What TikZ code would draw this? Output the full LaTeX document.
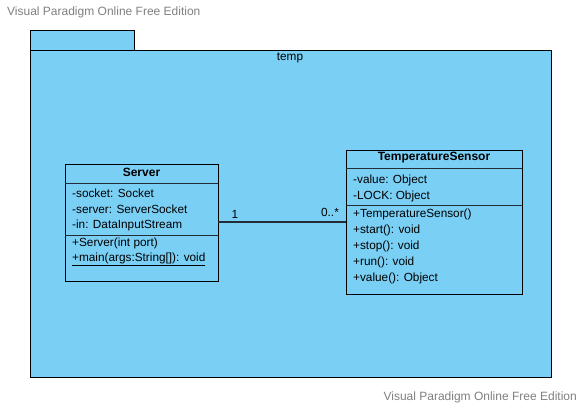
\documentclass[tikz,border=0pt]{standalone}
\usepackage{fontspec}
\setmainfont{Liberation Sans}
\definecolor{pkgblue}{RGB}{122,207,245}
\definecolor{wm}{RGB}{128,128,128}
\definecolor{lineclr}{RGB}{35,45,55}
\begin{document}
\begin{tikzpicture}[x=1pt,y=-1pt,
  box/.style={draw=black,fill=pkgblue,line width=1pt,inner sep=0pt,outer sep=0pt,anchor=north west},
  mem/.style={anchor=west,inner sep=0pt,font=\fontsize{11.8}{14}\selectfont},
  head/.style={anchor=center,inner sep=0pt,font=\bfseries\fontsize{12}{14}\selectfont},
  sep/.style={draw=lineclr,line width=1pt},
  wmark/.style={text=wm,inner sep=0pt,font=\fontsize{12}{14}\selectfont},
  mult/.style={inner sep=0pt,font=\fontsize{11.8}{14}\selectfont}]
\useasboundingbox (0,0) rectangle (582,408);
\fill[white] (0,0) rectangle (582,408);
% watermarks
\node[wmark,anchor=west] (wm1) at (7,12) {Visual Paradigm Online Free Edition};
\node[wmark,anchor=east] (wm2) at (577,397) {Visual Paradigm Online Free Edition};
% package
\node[box,minimum width=104pt,minimum height=20pt] (tab) at (30,30) {};
\node[box,minimum width=521pt,minimum height=327pt] (pkg) at (30,50) {};
\node[mult] (pkgname) at (290,58) {temp};
% Server class
\node[box,minimum width=153pt,minimum height=117pt] (server) at (65,164) {};
\node[head] (serverh) at (141.5,172) {Server};
\draw[sep] (65,183) -- (218,183);
\node[mem] (s1) at (72,193) {-socket: Socket};
\node[mem] (s2) at (72,209) {-server: ServerSocket};
\node[mem] (s3) at (72,225) {-in: DataInputStream};
\draw[sep] (65,235) -- (218,235);
\node[mem] (s4) at (72,243) {+Server(int port)};
\node[mem] (s5) at (72,259) {\underline{+main(args:String[]): void}};
% TemperatureSensor class
\node[box,minimum width=176pt,minimum height=144pt] (sensor) at (346,150) {};
\node[head] (sensorh) at (434,158) {TemperatureSensor};
\draw[sep] (346,168) -- (522,168);
\node[mem] (t1) at (353,180) {-value: Object};
\node[mem] (t2) at (353,196) {-LOCK: Object};
\draw[sep] (346,205) -- (522,205);
\node[mem] (t3) at (353,214) {+TemperatureSensor()};
\node[mem] (t4) at (353,230) {+start(): void};
\node[mem] (t5) at (353,246) {+stop(): void};
\node[mem] (t6) at (353,262) {+run(): void};
\node[mem] (t7) at (353,278) {+value(): Object};
% association
\coordinate (a1) at (218,222);
\coordinate (a2) at (346,222);
\draw[draw=lineclr,line width=1.2pt] (a1) -- (a2);
\node[mult] (m1) at (235,214) {1};
\node[mult] (m2) at (330,212) {0..*};
\end{tikzpicture}
\end{document}
